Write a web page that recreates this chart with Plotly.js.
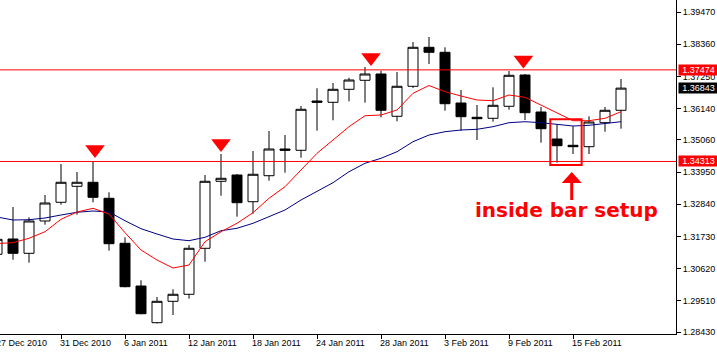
<!DOCTYPE html>
<html>
<head>
<meta charset="utf-8">
<script src="https://cdn.plot.ly/plotly-3.0.1.min.js"></script>
<style>
html,body{margin:0;padding:0;background:#fff;overflow:hidden;}
#chart{width:717px;height:354px;}
</style>
</head>
<body>
<div id="chart"></div>
<script>
// ---- data (EUR/USD daily) ----
const dates = ["2010-12-27","2010-12-28","2010-12-29","2010-12-30","2010-12-31",
  "2011-01-03","2011-01-04","2011-01-05","2011-01-06","2011-01-07",
  "2011-01-10","2011-01-11","2011-01-12","2011-01-13","2011-01-14",
  "2011-01-17","2011-01-18","2011-01-19","2011-01-20","2011-01-21",
  "2011-01-24","2011-01-25","2011-01-26","2011-01-27","2011-01-28",
  "2011-01-31","2011-02-01","2011-02-02","2011-02-03","2011-02-04",
  "2011-02-07","2011-02-08","2011-02-09","2011-02-10","2011-02-11",
  "2011-02-14","2011-02-15","2011-02-16","2011-02-17","2011-02-18"];

const openP  = [1.31111,1.31639,1.31145,1.32260,1.32905,1.33457,1.33595,1.33043,1.31490,1.30017,
                1.28751,1.29489,1.29731,1.31318,1.33629,1.33846,1.32925,1.33822,1.34743,1.34699,
                1.36399,1.36355,1.36803,1.37114,1.37331,1.35872,1.36907,1.38252,1.38080,1.36330,
                1.35837,1.35803,1.36217,1.37296,1.36020,1.35088,1.34871,1.34823,1.35651,1.36079];
const highP  = [1.31673,1.32742,1.32387,1.33156,1.34226,1.33950,1.34312,1.33250,1.31697,1.30214,
                1.29637,1.29903,1.31431,1.33846,1.34571,1.33881,1.34674,1.35364,1.35226,1.36227,
                1.36838,1.37020,1.37203,1.37572,1.37445,1.37400,1.38435,1.38607,1.38252,1.36779,
                1.36261,1.36872,1.37434,1.37331,1.36192,1.35596,1.35527,1.35872,1.36192,1.37158];
const lowP   = [1.31052,1.30924,1.30821,1.32132,1.32822,1.32477,1.32905,1.31235,1.29972,1.29041,
                1.28723,1.29016,1.29579,1.30855,1.33132,1.32408,1.32511,1.33650,1.33926,1.34443,
                1.35375,1.35734,1.36389,1.36341,1.35837,1.35699,1.36848,1.37676,1.36065,1.35375,
                1.35054,1.35685,1.36099,1.35744,1.34961,1.34271,1.34571,1.34571,1.35340,1.35444];
const closeP = [1.31628,1.31145,1.32260,1.32880,1.33595,1.33595,1.33077,1.31476,1.29993,1.29061,
                1.29489,1.29731,1.31318,1.33629,1.33733,1.32891,1.33871,1.34743,1.34699,1.36113,
                1.36355,1.36803,1.37124,1.37331,1.36079,1.36907,1.38252,1.38080,1.36306,1.35858,
                1.35789,1.36251,1.37286,1.35996,1.35444,1.34857,1.34823,1.35675,1.36079,1.36843];

// moving averages as drawn (red = fast, navy = slow)
const maFast = [1.31483,1.31511,1.31663,1.31890,1.32318,1.32570,1.32698,1.32501,1.31856,1.31259,
                1.30914,1.30638,1.30741,1.31545,1.31890,1.32180,1.32546,1.33043,1.33443,1.34019,
                1.34595,1.35054,1.35513,1.35892,1.35916,1.36089,1.36665,1.36934,1.36720,1.36572,
                1.36434,1.36410,1.36606,1.36527,1.36261,1.35985,1.35720,1.35720,1.35803,1.36030];
const maSlow = [1.32397,1.32294,1.32304,1.32363,1.32466,1.32560,1.32604,1.32570,1.32270,1.31994,
                1.31811,1.31638,1.31580,1.31697,1.31925,1.32008,1.32180,1.32408,1.32639,1.32984,
                1.33270,1.33581,1.33960,1.34250,1.34423,1.34650,1.34995,1.35226,1.35340,1.35399,
                1.35423,1.35513,1.35651,1.35685,1.35651,1.35596,1.35537,1.35561,1.35630,1.35685];

// red down-arrow signals (bar position, price)
const signalPos   = [6.125, 14.0, 23.375, 32.9];
const signalPrice = [1.34723, 1.34930, 1.37897, 1.37817];

// horizontal levels and price tags
const levels = [1.37474, 1.34313];
const lastPrice = 1.36843;

// x tick labels (bar position, text)
const xTickPos  = [0, 4, 8, 12, 16, 20, 24, 28, 32, 36];
const xTickText = ["27 Dec 2010","31 Dec 2010","6 Jan 2011","12 Jan 2011","18 Jan 2011",
                   "24 Jan 2011","28 Jan 2011","3 Feb 2011","9 Feb 2011","15 Feb 2011"];

// y tick labels
const yTickVals = [1.39470,1.38360,1.37250,1.36140,1.35060,1.33950,1.32840,1.31730,1.30620,1.29510,1.28430];
const yTickText = ["1.39470","1.38360","1.37250","1.36140","1.35060","1.33950","1.32840","1.31730","1.30620","1.29510","1.28430"];

// inside bar highlight (bar span and price span), arrow tip and label
const boxBars   = [34.58, 36.54];
const boxPrices = [1.34191, 1.35768];
const arrowTip  = [35.92, 1.33954];
const noteText  = "inside bar setup";
const notePos   = [35.6, 1.32639];

// ---- chart ----
const idx = dates.map((d, i) => i);
const xRange = [0.1875, 42.4375];
const yRange = [1.28361, 1.39884];
const FONT = "Liberation Sans, Arial, sans-serif";

const traces = [
  {type: "scatter", mode: "lines", x: idx, y: maSlow,
   line: {color: "#000080", width: 1}, hoverinfo: "skip"},
  {type: "scatter", mode: "lines", x: idx, y: maFast,
   line: {color: "#FF0000", width: 1}, hoverinfo: "skip"},
  {type: "candlestick", x: idx, open: openP, high: highP, low: lowP, close: closeP,
   whiskerwidth: 0,
   increasing: {line: {color: "#000000", width: 1}, fillcolor: "#FFFFFF"},
   decreasing: {line: {color: "#000000", width: 1}, fillcolor: "#000000"},
   hoverinfo: "skip"},
  {type: "scatter", mode: "markers", x: signalPos, y: signalPrice,
   marker: {symbol: "triangle-down", size: 17, color: "#FF0000", line: {width: 0}},
   hoverinfo: "skip"}
];

const shapes = levels.map(v => ({
  type: "line", xref: "paper", x0: 0, x1: 1, yref: "y", y0: v, y1: v,
  line: {color: "#FF0000", width: 1}
}));
shapes.push({
  type: "rect", xref: "x", yref: "y",
  x0: boxBars[0], x1: boxBars[1], y0: boxPrices[0], y1: boxPrices[1],
  line: {color: "#FF0000", width: 2}, fillcolor: "rgba(0,0,0,0)"
});
shapes.push({
  type: "path", xref: "x", yref: "y", xsizemode: "pixel", ysizemode: "pixel",
  xanchor: arrowTip[0], yanchor: arrowTip[1],
  path: "M0,0 L10,-11 L1.5,-11 L1.5,-28 L-1.5,-28 L-1.5,-11 L-10,-11 Z",
  fillcolor: "#FF0000", line: {width: 0}
});

const annotations = [];
xTickPos.forEach((p, i) => {
  annotations.push({
    xref: "paper", x: (p - xRange[0]) / (xRange[1] - xRange[0]), xanchor: "left", xshift: -2,
    yref: "paper", y: 0, yanchor: "top", yshift: -3,
    text: xTickText[i], showarrow: false, borderpad: 0,
    font: {family: FONT, size: 9, color: "#000000"}
  });
});
const tags = [{v: levels[0], bg: "#FF0000"}, {v: levels[1], bg: "#FF0000"}, {v: lastPrice, bg: "#000000"}];
tags.forEach(t => {
  annotations.push({
    xref: "paper", x: 1, xanchor: "left", xshift: 2,
    yref: "y", y: t.v, yanchor: "middle",
    text: t.v.toFixed(5), showarrow: false, bgcolor: t.bg, borderpad: 0,
    width: 39, height: 10, align: "center",
    font: {family: FONT, size: 9, color: "#FFFFFF"}
  });
});
annotations.push({
  xref: "x", x: notePos[0], yref: "y", y: notePos[1], xanchor: "center", yanchor: "middle",
  text: "<b>" + noteText + "</b>", showarrow: false,
  font: {family: "DejaVu Sans, sans-serif", size: 20, color: "#FF0000"}
});

const layout = {
  width: 717, height: 354,
  margin: {l: 0, r: 41, t: 0, b: 20, pad: 0},
  paper_bgcolor: "#FFFFFF", plot_bgcolor: "#FFFFFF",
  showlegend: false, hovermode: false, dragmode: false,
  boxgap: 0.375, boxgroupgap: 0,
  xaxis: {
    type: "linear", range: xRange, tickvals: xTickPos, ticktext: xTickText,
    showticklabels: false, ticks: "outside", ticklen: 4, tickwidth: 1, tickcolor: "#000000",
    showline: true, linecolor: "#000000", linewidth: 1,
    showgrid: false, zeroline: false, rangeslider: {visible: false}, fixedrange: true
  },
  yaxis: {
    side: "right", range: yRange, tickvals: yTickVals, ticktext: yTickText,
    ticks: "outside", ticklen: 4, tickwidth: 1, tickcolor: "#000000",
    showline: true, linecolor: "#000000", linewidth: 1,
    showgrid: false, zeroline: false, fixedrange: true,
    tickfont: {family: FONT, size: 9, color: "#000000"}
  },
  shapes: shapes,
  annotations: annotations
};

Plotly.newPlot("chart", traces, layout, {staticPlot: true, displayModeBar: false});
</script>
</body>
</html>
